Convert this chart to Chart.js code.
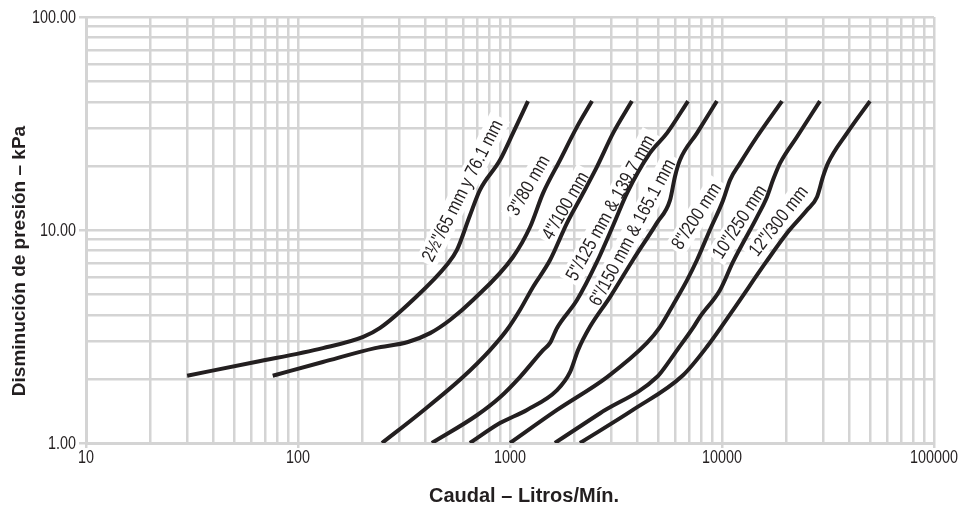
<!DOCTYPE html>
<html lang="es">
<head>
<meta charset="utf-8">
<title>Disminución de presión – kPa</title>
<script src="https://cdn.jsdelivr.net/npm/chart.js@4.4.1/dist/chart.umd.min.js"></script>
<style>
  html, body { margin: 0; padding: 0; background: #fff; }
  #wrap { width: 960px; height: 508px; }
</style>
</head>
<body>
<div id="wrap"><canvas id="grafiek" width="960" height="508"></canvas></div>
<script>
// Caudal (Litros/Mín.) and pressure drop (kPa) per pipe size
const flow65 = [30, 63, 131, 203, 244, 348, 504, 562, 647, 721, 897, 1033, 1216];
const drop65 = [2.07, 2.40, 2.79, 3.15, 3.47, 4.69, 6.86, 8.06, 11.7, 15.4, 21.3, 28.5, 40.3];

const flow80 = [76, 131, 231, 330, 420, 521, 669, 1033, 1242, 1432, 1722, 2070, 2437];
const drop80 = [2.07, 2.40, 2.79, 2.98, 3.28, 3.78, 4.69, 7.47, 10.3, 14.9, 21.3, 30.5, 40.3];

const flow100 = [249, 376, 600, 805, 968, 1114, 1282, 1545, 1859, 2188, 2570, 3064, 3758];
const drop100 = [1.0, 1.38, 2.04, 2.73, 3.40, 4.21, 5.39, 7.23, 10.8, 14.6, 19.8, 28.5, 40.3];

const flow125 = [428, 698, 897, 1114, 1432, 1545, 1667, 2070, 2570, 3064, 3565, 4575, 5502, 6918];
const drop125 = [1.0, 1.35, 1.64, 2.04, 2.73, 2.95, 3.47, 4.69, 7.08, 10.5, 14.9, 23.0, 28.5, 40.3];

const flow150 = [647, 897, 1202, 1667, 1919, 2094, 2383, 2962, 3802, 4932, 5686, 5998, 6334, 7621, 9463];
const drop150 = [1.0, 1.24, 1.43, 1.77, 2.15, 2.73, 3.51, 4.84, 7.23, 10.8, 13.8, 17.8, 21.3, 28.5, 40.3];

const flow200 = [1000, 1667, 2871, 4426, 5105, 5876, 6843, 7621, 8770, 10120, 10920, 12170, 14620, 19190];
const drop200 = [1.0, 1.43, 2.04, 2.95, 3.51, 4.45, 5.82, 7.23, 10.0, 13.8, 17.2, 20.6, 27.4, 40.3];

const flow250 = [1629, 2661, 4932, 5686, 6140, 7295, 7870, 9790, 11270, 14620, 16300, 17410, 18790, 22590, 28970];
const drop250 = [1.0, 1.38, 2.04, 2.45, 2.73, 3.47, 3.91, 5.23, 7.08, 11.5, 14.3, 17.2, 20.6, 27.4, 40.3];

const flow300 = [2138, 3802, 6546, 8491, 11270, 16150, 20280, 25180, 28060, 29950, 31620, 38870, 49890];
const drop300 = [1.0, 1.43, 2.08, 2.83, 4.21, 7.08, 9.68, 12.4, 14.3, 17.8, 20.6, 28.5, 40.3];

// Curve names and where they sit (in data units)
const labelText = ['2½"/65 mm y 76.1 mm', '3"/80 mm', '4"/100 mm', '5"/125 mm & 139.7 mm',
                   '6"/150 mm & 165.1 mm', '8"/200 mm', '10"/250 mm', '12"/300 mm'];
const labelFlow = [600, 1230, 1837, 2992, 3802, 7621, 12170, 18570];
const labelDrop = [15.4, 16.3, 13.1, 12.8, 9.8, 11.7, 11.0, 11.1];
const labelAngle = [-63, -60, -60, -61, -62, -57, -57, -52];

// Axis ticks
const xTickLabels = ['10', '100', '1000', '10000', '100000'];
const yTickLabels = ['1.00', '10.00', '100.00'];
const gridSteps = [1, 2, 3, 4, 5, 6, 7, 8, 9];

const INK = '#231f20';
const GRID = '#d4d4d4';
const SANS = '"Liberation Sans", Arial, sans-serif';
const NARROW = 0.82; // no condensed face installed, so squeeze horizontally

// gridlines at 1..9 of every decade
function logGrid(labels) {
  const majors = labels.map(Number);
  const vals = [];
  majors.slice(0, -1).forEach(m => gridSteps.forEach(s => vals.push(m * s)));
  vals.push(majors[majors.length - 1]);
  return vals;
}

function isMajor(labels, c) {
  return c.tick && labels.some(t => Number(t) === c.tick.value);
}

function curve(flow, drop) {
  return {
    data: flow.map((x, i) => ({ x: x, y: drop[i] })),
    showLine: true,
    borderColor: INK,
    borderWidth: 4,
    borderCapStyle: 'butt',
    pointRadius: 0,
    cubicInterpolationMode: 'monotone',
    fill: false
  };
}

// condensed text at a point
function narrowText(ctx, txt, px, py, angle, align) {
  ctx.save();
  ctx.translate(px, py);
  ctx.rotate(angle * Math.PI / 180);
  ctx.scale(NARROW, 1);
  ctx.textAlign = align;
  ctx.fillText(txt, 0, 0);
  ctx.restore();
}

// names of the curves on white patches, under the lines
const curveLabels = {
  id: 'curveLabels',
  beforeDatasetsDraw(chart) {
    const { ctx, scales: { x, y } } = chart;
    ctx.save();
    ctx.font = '19px ' + SANS;
    ctx.textBaseline = 'middle';
    labelText.forEach((txt, i) => {
      const px = x.getPixelForValue(labelFlow[i]);
      const py = y.getPixelForValue(labelDrop[i]);
      ctx.save();
      ctx.translate(px, py);
      ctx.rotate(labelAngle[i] * Math.PI / 180);
      const w = ctx.measureText(txt).width * NARROW + 8;
      ctx.fillStyle = '#fff';
      ctx.fillRect(-w / 2, -11, w, 22);
      ctx.restore();
      ctx.fillStyle = INK;
      narrowText(ctx, txt, px, py + 1, labelAngle[i], 'center');
    });
    ctx.restore();
  }
};

// tick labels and axis titles
const axisText = {
  id: 'axisText',
  afterDraw(chart) {
    const { ctx, scales: { x, y } } = chart;
    ctx.save();
    ctx.fillStyle = INK;
    ctx.textBaseline = 'alphabetic';
    ctx.font = '17.5px ' + SANS;
    xTickLabels.forEach(t => narrowText(ctx, t, x.getPixelForValue(Number(t)), 463, 0, 'center'));
    yTickLabels.forEach(t => narrowText(ctx, t, 76, y.getPixelForValue(Number(t)) + 6, 0, 'right'));

    ctx.textAlign = 'center';
    ctx.font = 'bold 20px ' + SANS;
    ctx.fillText('Caudal – Litros/Mín.', 524, 502);
    ctx.translate(25, 261);
    ctx.rotate(-Math.PI / 2);
    ctx.font = 'bold 19px ' + SANS;
    ctx.fillText('Disminución de presión – kPa', 0, 0);
    ctx.restore();
  }
};

const config = {
  type: 'scatter',
  data: {
    datasets: [
      curve(flow65, drop65),
      curve(flow80, drop80),
      curve(flow100, drop100),
      curve(flow125, drop125),
      curve(flow150, drop150),
      curve(flow200, drop200),
      curve(flow250, drop250),
      curve(flow300, drop300)
    ]
  },
  options: {
    responsive: false,
    animation: false,
    devicePixelRatio: 1,
    layout: { padding: { top: 17, right: 26, left: 0, bottom: 0 } },
    plugins: { legend: { display: false }, tooltip: { enabled: false } },
    scales: {
      x: {
        type: 'logarithmic',
        min: 10,
        max: 100000,
        afterFit: s => { s.height = 65; },
        afterBuildTicks: s => { s.ticks = logGrid(xTickLabels).map(v => ({ value: v })); },
        ticks: { display: false },
        grid: {
          color: GRID,
          lineWidth: 2.5,
          tickLength: 5,
          tickColor: c => isMajor(xTickLabels, c) ? GRID : 'rgba(0,0,0,0)'
        },
        border: { color: GRID, width: 3 }
      },
      y: {
        type: 'logarithmic',
        min: 1,
        max: 100,
        afterFit: s => { s.width = 86; },
        afterBuildTicks: s => { s.ticks = logGrid(yTickLabels).map(v => ({ value: v })); },
        ticks: { display: false },
        grid: {
          color: GRID,
          lineWidth: 2.5,
          tickLength: 7,
          tickColor: c => isMajor(yTickLabels, c) ? GRID : 'rgba(0,0,0,0)'
        },
        border: { color: GRID, width: 3 }
      }
    }
  },
  plugins: [curveLabels, axisText]
};

const grafiek = new Chart(document.getElementById('grafiek'), config);
</script>
</body>
</html>
